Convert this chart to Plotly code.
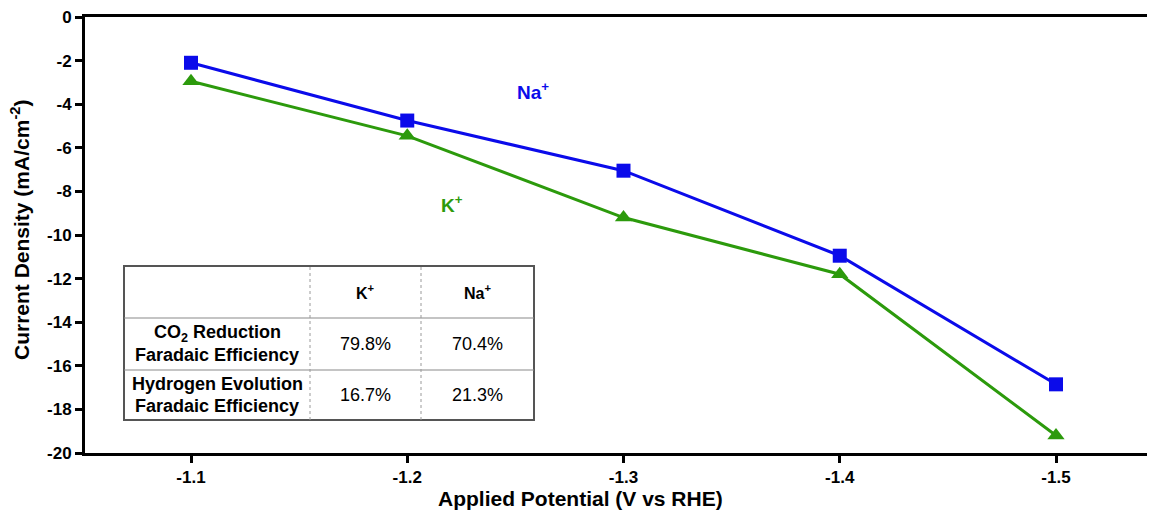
import plotly.graph_objects as go

potential = [-1.1, -1.2, -1.3, -1.4, -1.5]
na_current = [-2.1, -4.75, -7.05, -10.95, -16.85]
k_current = [-2.95, -5.45, -9.2, -11.8, -19.2]

x_ticks = [-1.1, -1.2, -1.3, -1.4, -1.5]
x_ticktext = ["-1.1", "-1.2", "-1.3", "-1.4", "-1.5"]
y_ticks = [0, -2, -4, -6, -8, -10, -12, -14, -16, -18, -20]
y_ticktext = ["0", "-2", "-4", "-6", "-8", "-10", "-12", "-14", "-16", "-18", "-20"]

table_cols = ["", "K<sup>+</sup>", "Na<sup>+</sup>"]
table_rows = [["CO<sub>2</sub> Reduction", "Faradaic Efficiency"],
              ["Hydrogen Evolution", "Faradaic Efficiency"]]
k_fe = ["79.8%", "16.7%"]
na_fe = ["70.4%", "21.3%"]

# page is offset by the 8px body margin
OFF = 8
W, H = 1155 - OFF, 514 - OFF
L, R, T, B = 85 - OFF, 0, 17 - OFF, 514 - 453
PW, PH = W - L - R, H - T - B


def px(xp):
    return (xp - OFF - L) / PW


def py(yp):
    return (H - B - (yp - OFF)) / PH


BLUE = "#0b0bea"
GREEN = "#2c9a0c"
FONT = "Liberation Sans, Arial, sans-serif"

fig = go.Figure()
fig.add_trace(go.Scatter(x=potential, y=na_current, mode="lines+markers",
                         line=dict(color=BLUE, width=3),
                         marker=dict(symbol="square", size=14, color=BLUE),
                         name="Na+", showlegend=False))
fig.add_trace(go.Scatter(x=potential, y=k_current, mode="lines+markers",
                         line=dict(color=GREEN, width=3),
                         marker=dict(symbol="triangle-up", size=15, color=GREEN),
                         name="K+", showlegend=False))

shapes = []
tx0, tx1, tx2, tx3 = 124, 310, 421, 534
ty0, ty1, ty2, ty3 = 266, 318, 370, 420
shapes.append(dict(type="rect", xref="paper", yref="paper",
                   x0=px(tx0), x1=px(tx3), y0=py(ty3), y1=py(ty0),
                   line=dict(color="#555555", width=2), fillcolor="white", layer="above"))
for yy in (ty1, ty2):
    shapes.append(dict(type="line", xref="paper", yref="paper",
                       x0=px(tx0), x1=px(tx3), y0=py(yy), y1=py(yy),
                       line=dict(color="#8a8a8a", width=1.2), layer="above"))
for xx in (tx1, tx2):
    shapes.append(dict(type="line", xref="paper", yref="paper",
                       x0=px(xx), x1=px(xx), y0=py(ty3), y1=py(ty0),
                       line=dict(color="#9a9a9a", width=1, dash="dot"), layer="above"))

annotations = []
cx = [(tx0 + tx1) / 2, (tx1 + tx2) / 2, (tx2 + tx3) / 2]
cy = [(ty0 + ty1) / 2, (ty1 + ty2) / 2, (ty2 + ty3) / 2]


def ann(xp, yp, text, size, color="black", **kw):
    d = dict(x=px(xp), y=py(yp), xref="paper", yref="paper", text=text,
             showarrow=False, xanchor="center", yanchor="middle",
             font=dict(size=size, color=color, family=FONT))
    d.update(kw)
    annotations.append(d)


for i, c in enumerate(table_cols):
    if c:
        ann(cx[i], cy[0], "<b>" + c + "</b>", 16)
for r, lines in enumerate(table_rows):
    ann(cx[0], cy[r + 1] - 11, "<b>" + lines[0] + "</b>", 18)
    ann(cx[0], cy[r + 1] + 11, "<b>" + lines[1] + "</b>", 18)
    ann(cx[1], cy[r + 1], k_fe[r], 18)
    ann(cx[2], cy[r + 1], na_fe[r], 18)

ann(533, 91, "<b>Na<sup>+</sup></b>", 19, BLUE)
ann(452, 204, "<b>K<sup>+</sup></b>", 19, GREEN)

# axis titles
ann(580, 498, "<b>Applied Potential (V vs RHE)</b>", 21)
ann(20, 230, "<b>Current Density (mA/cm<sup>-2</sup>)</b>", 21, textangle=-90)

xr0 = -1.1 + (191 - 85) / 2162.5
xr1 = -1.5 - (1155 - 1056) / 2162.5

fig.update_layout(
    width=W, height=H,
    margin=dict(l=L, r=R, t=T, b=B, autoexpand=False),
    paper_bgcolor="white", plot_bgcolor="white",
    shapes=shapes, annotations=annotations,
    font=dict(family=FONT, color="black"),
    xaxis=dict(range=[xr0, xr1], tickvals=x_ticks, ticktext=x_ticktext,
               showgrid=False, zeroline=False, showline=True, linecolor="black",
               linewidth=3, mirror=True, ticks="outside", ticklen=7, tickwidth=2.5,
               tickcolor="black", automargin=False, ticklabeloverflow="allow",
               tickfont=dict(size=17, family=FONT, weight="bold")),
    yaxis=dict(range=[-20, 0], tickvals=y_ticks, ticktext=y_ticktext,
               showgrid=False, zeroline=False, showline=True, linecolor="black",
               linewidth=3, ticks="outside", ticklen=7, tickwidth=2.5, tickcolor="black",
               automargin=False, ticklabeloverflow="allow",
               tickfont=dict(size=17, family=FONT, weight="bold")),
)

fig.write_html("out.html")
